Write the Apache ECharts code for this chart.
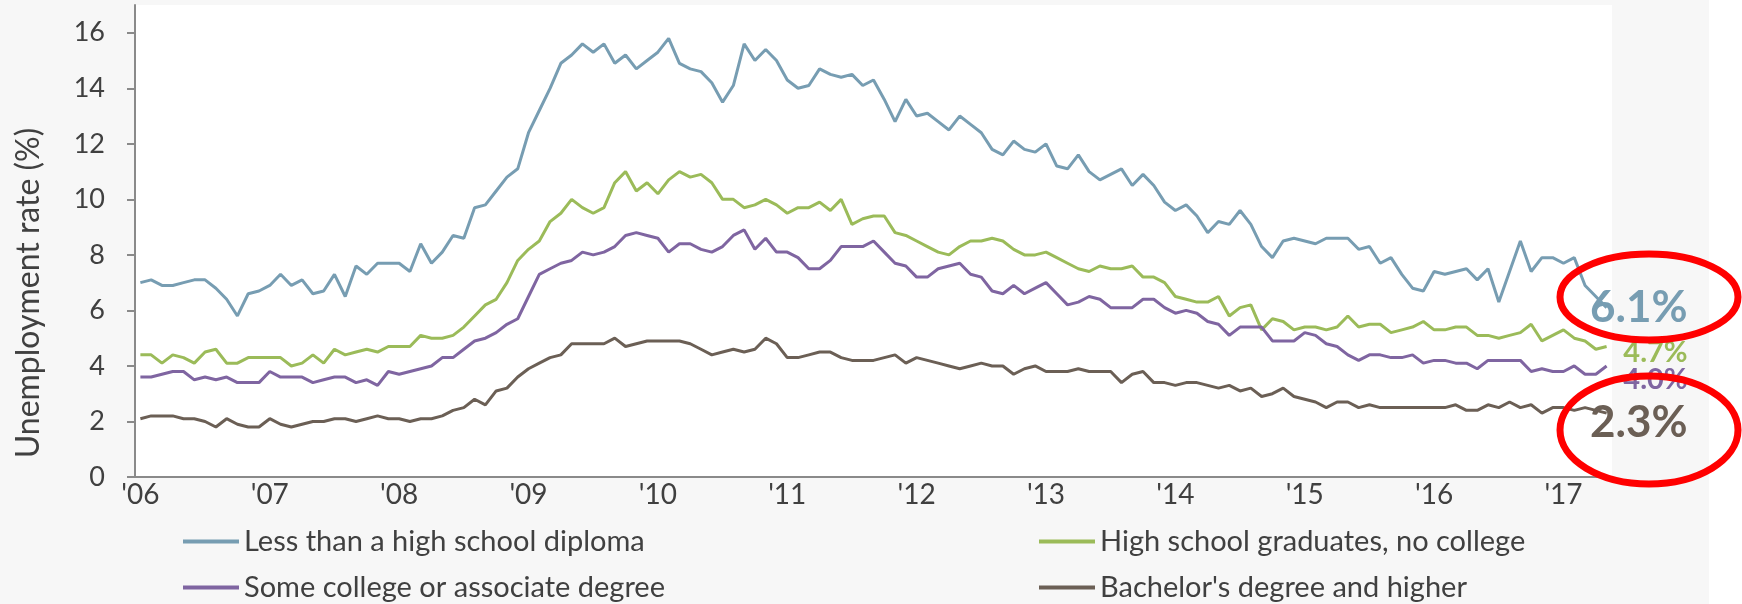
<!DOCTYPE html>
<html>
<head>
<meta charset="utf-8">
<script src="https://cdn.jsdelivr.net/npm/echarts@6/dist/echarts.min.js"></script>
<style>
    html, body { margin: 0; padding: 0; background: #ffffff; }
    #main { width: 1742px; height: 604px; }
</style>
</head>
<body>
<div id="main"></div>
<script>
'use strict';

// year tick labels, one per January
var yearLabels = ["'06", "'07", "'08", "'09", "'10", "'11", "'12", "'13", "'14", "'15", "'16", "'17"];
var yTicks = [0, 2, 4, 6, 8, 10, 12, 14, 16];
var seriesNames = [
    'Less than a high school diploma',
    'High school graduates, no college',
    'Some college or associate degree',
    "Bachelor's degree and higher"
];

// monthly unemployment rate (%), Jan 2006 - May 2017
var lessThanHS = [
    7.0, 7.1, 6.9, 6.9, 7.0, 7.1, 7.1, 6.8, 6.4, 5.8, 6.6, 6.7,
    6.9, 7.3, 6.9, 7.1, 6.6, 6.7, 7.3, 6.5, 7.6, 7.3, 7.7, 7.7,
    7.7, 7.4, 8.4, 7.7, 8.1, 8.7, 8.6, 9.7, 9.8, 10.3, 10.8, 11.1,
    12.4, 13.2, 14.0, 14.9, 15.2, 15.6, 15.3, 15.6, 14.9, 15.2, 14.7, 15.0,
    15.3, 15.8, 14.9, 14.7, 14.6, 14.2, 13.5, 14.1, 15.6, 15.0, 15.4, 15.0,
    14.3, 14.0, 14.1, 14.7, 14.5, 14.4, 14.5, 14.1, 14.3, 13.6, 12.8, 13.6,
    13.0, 13.1, 12.8, 12.5, 13.0, 12.7, 12.4, 11.8, 11.6, 12.1, 11.8, 11.7,
    12.0, 11.2, 11.1, 11.6, 11.0, 10.7, 10.9, 11.1, 10.5, 10.9, 10.5, 9.9,
    9.6, 9.8, 9.4, 8.8, 9.2, 9.1, 9.6, 9.1, 8.3, 7.9, 8.5, 8.6,
    8.5, 8.4, 8.6, 8.6, 8.6, 8.2, 8.3, 7.7, 7.9, 7.3, 6.8, 6.7,
    7.4, 7.3, 7.4, 7.5, 7.1, 7.5, 6.3, 7.4, 8.5, 7.4, 7.9, 7.9,
    7.7, 7.9, 6.9, 6.5, 6.1
];
var highSchool = [
    4.4, 4.4, 4.1, 4.4, 4.3, 4.1, 4.5, 4.6, 4.1, 4.1, 4.3, 4.3,
    4.3, 4.3, 4.0, 4.1, 4.4, 4.1, 4.6, 4.4, 4.5, 4.6, 4.5, 4.7,
    4.7, 4.7, 5.1, 5.0, 5.0, 5.1, 5.4, 5.8, 6.2, 6.4, 7.0, 7.8,
    8.2, 8.5, 9.2, 9.5, 10.0, 9.7, 9.5, 9.7, 10.6, 11.0, 10.3, 10.6,
    10.2, 10.7, 11.0, 10.8, 10.9, 10.6, 10.0, 10.0, 9.7, 9.8, 10.0, 9.8,
    9.5, 9.7, 9.7, 9.9, 9.6, 10.0, 9.1, 9.3, 9.4, 9.4, 8.8, 8.7,
    8.5, 8.3, 8.1, 8.0, 8.3, 8.5, 8.5, 8.6, 8.5, 8.2, 8.0, 8.0,
    8.1, 7.9, 7.7, 7.5, 7.4, 7.6, 7.5, 7.5, 7.6, 7.2, 7.2, 7.0,
    6.5, 6.4, 6.3, 6.3, 6.5, 5.8, 6.1, 6.2, 5.3, 5.7, 5.6, 5.3,
    5.4, 5.4, 5.3, 5.4, 5.8, 5.4, 5.5, 5.5, 5.2, 5.3, 5.4, 5.6,
    5.3, 5.3, 5.4, 5.4, 5.1, 5.1, 5.0, 5.1, 5.2, 5.5, 4.9, 5.1,
    5.3, 5.0, 4.9, 4.6, 4.7
];
var someCollege = [
    3.6, 3.6, 3.7, 3.8, 3.8, 3.5, 3.6, 3.5, 3.6, 3.4, 3.4, 3.4,
    3.8, 3.6, 3.6, 3.6, 3.4, 3.5, 3.6, 3.6, 3.4, 3.5, 3.3, 3.8,
    3.7, 3.8, 3.9, 4.0, 4.3, 4.3, 4.6, 4.9, 5.0, 5.2, 5.5, 5.7,
    6.5, 7.3, 7.5, 7.7, 7.8, 8.1, 8.0, 8.1, 8.3, 8.7, 8.8, 8.7,
    8.6, 8.1, 8.4, 8.4, 8.2, 8.1, 8.3, 8.7, 8.9, 8.2, 8.6, 8.1,
    8.1, 7.9, 7.5, 7.5, 7.8, 8.3, 8.3, 8.3, 8.5, 8.1, 7.7, 7.6,
    7.2, 7.2, 7.5, 7.6, 7.7, 7.3, 7.2, 6.7, 6.6, 6.9, 6.6, 6.8,
    7.0, 6.6, 6.2, 6.3, 6.5, 6.4, 6.1, 6.1, 6.1, 6.4, 6.4, 6.1,
    5.9, 6.0, 5.9, 5.6, 5.5, 5.1, 5.4, 5.4, 5.4, 4.9, 4.9, 4.9,
    5.2, 5.1, 4.8, 4.7, 4.4, 4.2, 4.4, 4.4, 4.3, 4.3, 4.4, 4.1,
    4.2, 4.2, 4.1, 4.1, 3.9, 4.2, 4.2, 4.2, 4.2, 3.8, 3.9, 3.8,
    3.8, 4.0, 3.7, 3.7, 4.0
];
var bachelors = [
    2.1, 2.2, 2.2, 2.2, 2.1, 2.1, 2.0, 1.8, 2.1, 1.9, 1.8, 1.8,
    2.1, 1.9, 1.8, 1.9, 2.0, 2.0, 2.1, 2.1, 2.0, 2.1, 2.2, 2.1,
    2.1, 2.0, 2.1, 2.1, 2.2, 2.4, 2.5, 2.8, 2.6, 3.1, 3.2, 3.6,
    3.9, 4.1, 4.3, 4.4, 4.8, 4.8, 4.8, 4.8, 5.0, 4.7, 4.8, 4.9,
    4.9, 4.9, 4.9, 4.8, 4.6, 4.4, 4.5, 4.6, 4.5, 4.6, 5.0, 4.8,
    4.3, 4.3, 4.4, 4.5, 4.5, 4.3, 4.2, 4.2, 4.2, 4.3, 4.4, 4.1,
    4.3, 4.2, 4.1, 4.0, 3.9, 4.0, 4.1, 4.0, 4.0, 3.7, 3.9, 4.0,
    3.8, 3.8, 3.8, 3.9, 3.8, 3.8, 3.8, 3.4, 3.7, 3.8, 3.4, 3.4,
    3.3, 3.4, 3.4, 3.3, 3.2, 3.3, 3.1, 3.2, 2.9, 3.0, 3.2, 2.9,
    2.8, 2.7, 2.5, 2.7, 2.7, 2.5, 2.6, 2.5, 2.5, 2.5, 2.5, 2.5,
    2.5, 2.5, 2.6, 2.4, 2.4, 2.6, 2.5, 2.7, 2.5, 2.6, 2.3, 2.5,
    2.5, 2.4, 2.5, 2.4, 2.3
];

var colors = ['#779db2', '#9bbb59', '#7f65a1', '#6b5f55'];
var font = 'Lato, "Open Sans", sans-serif';

// one category per month
var months = [];
for (var i = 0; i < lessThanHS.length; i++) {
    months.push((2006 + Math.floor(i / 12)) + '-' + (i % 12 + 1));
}

// shift > 0 moves the end label down, < 0 up (done with an empty line)
function lineSeries(idx, data, endFont, shift) {
    return {
        name: seriesNames[idx],
        type: 'line',
        data: data,
        symbol: 'none',
        lineStyle: { width: 3, color: colors[idx] },
        itemStyle: { color: colors[idx] },
        endLabel: {
            show: true,
            align: 'right',
            verticalAlign: 'middle',
            distance: 81,
            lineHeight: shift ? Math.abs(shift) * 2 : endFont,
            formatter: function(p) {
                var txt = p.value.toFixed(1) + '%';
                if (!shift) return txt;
                return shift > 0 ? '\n' + txt : txt + '\n';
            },
            color: colors[idx],
            fontFamily: font,
            fontWeight: 'bold',
            fontSize: endFont
        }
    };
}

var myChart = echarts.init(document.getElementById('main'));
var legendText = { fontFamily: font, fontSize: 29, color: '#404040', lineHeight: 28 };
var option = {
    animation: false,
    backgroundColor: '#f7f7f7',
    grid: {
        show: true,
        left: 135,
        right: 130,
        top: 5,
        bottom: 127,
        backgroundColor: '#ffffff',
        borderWidth: 0
    },
    legend: [{
        data: [seriesNames[0], seriesNames[2]],
        orient: 'vertical',
        left: 183,
        top: 527,
        padding: 0,
        itemGap: 17,
        itemWidth: 56,
        itemHeight: 4,
        icon: 'rect',
        textStyle: legendText
    }, {
        data: [seriesNames[1], seriesNames[3]],
        orient: 'vertical',
        left: 1039,
        top: 527,
        padding: 0,
        itemGap: 17,
        itemWidth: 56,
        itemHeight: 4,
        icon: 'rect',
        textStyle: legendText
    }],
    xAxis: {
        type: 'category',
        data: months,
        boundaryGap: true,
        axisLine: { lineStyle: { color: '#8a8a8a', width: 2 } },
        axisTick: { interval: 11, length: 8, lineStyle: { color: '#8a8a8a', width: 2 } },
        axisLabel: {
            interval: 11,
            margin: 4,
            color: '#404040',
            fontFamily: font,
            fontSize: 28,
            formatter: function(value, index) {
                return yearLabels[Math.floor(index / 12)];
            }
        },
        splitLine: { show: false }
    },
    yAxis: {
        type: 'value',
        min: 0,
        max: 17,
        interval: 2,
        axisLine: { show: true, lineStyle: { color: '#8a8a8a', width: 2 } },
        axisTick: { show: true, length: 8, customValues: yTicks, lineStyle: { color: '#8a8a8a', width: 2 } },
        axisLabel: {
            customValues: yTicks,
            margin: 30,
            color: '#404040',
            fontFamily: font,
            fontSize: 27
        },
        splitLine: { show: false }
    },
    series: [
        lineSeries(0, lessThanHS, 44, 0),
        lineSeries(1, highSchool, 29, 6),
        lineSeries(2, someCollege, 29, 14),
        lineSeries(3, bachelors, 44, 10)
    ],
    graphic: [{
        type: 'rect',
        shape: { x: 1709, y: 0, width: 33, height: 604 },
        style: { fill: '#ffffff' },
        z: -10
    }, {
        type: 'text',
        x: 29,
        y: 293,
        rotation: Math.PI / 2,
        style: {
            text: 'Unemployment rate (%)',
            fill: '#404040',
            font: '32px ' + font,
            align: 'center',
            verticalAlign: 'middle'
        }
    }, {
        // red highlight rings
        type: 'ellipse',
        shape: { cx: 1649, cy: 297, rx: 89, ry: 43 },
        style: { fill: 'none', stroke: '#ff0000', lineWidth: 7 },
        z: 100
    }, {
        type: 'ellipse',
        shape: { cx: 1649, cy: 430, rx: 89, ry: 54 },
        style: { fill: 'none', stroke: '#ff0000', lineWidth: 7 },
        z: 100
    }]
};
myChart.setOption(option);
</script>
</body>
</html>
